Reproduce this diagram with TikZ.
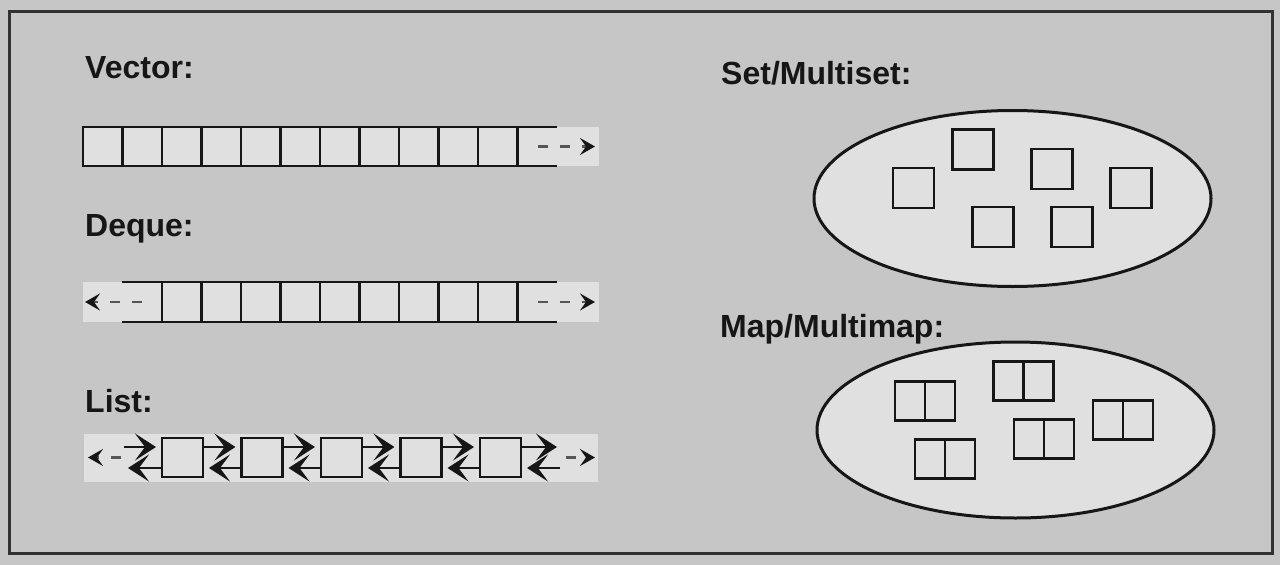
\documentclass[tikz,border=0pt]{standalone}
\usepackage{fontspec}
\setmainfont{Liberation Sans}
\usetikzlibrary{shapes.geometric,arrows.meta,calc}
\definecolor{bg}{RGB}{198,198,198}
\definecolor{lite}{RGB}{224,224,224}
\definecolor{ink}{RGB}{22,22,22}
\definecolor{frameink}{RGB}{50,50,50}
\definecolor{dashink}{RGB}{85,85,85}
\begin{document}
\begin{tikzpicture}[x=1pt,y=-1pt,
  title/.style={anchor=base west, inner sep=0, font=\fontsize{32}{38}\selectfont\bfseries, text=ink},
  cell/.style={draw=ink, line width=2.8pt, fill=lite, minimum width=39.5pt, minimum height=39pt, inner sep=0, outer sep=0, anchor=west},
  dcell/.style={cell, minimum height=40pt},
  edgeline/.style={draw=ink, line width=2.8pt},
  dasharrow/.style={draw=dashink, line width=2.4pt, dash pattern=on 10pt off 12pt, -{Stealth[length=15pt,width=17pt,inset=6pt,ink]}},
  lbox/.style={draw=ink, line width=2.6pt, fill=lite, minimum width=41pt, minimum height=39pt, inner sep=0, outer sep=0},
  lnk/.style={draw=ink, line width=2.6pt, -{Stealth[length=21pt,width=27pt,inset=10pt]}},
  blob/.style={ellipse, draw=ink, line width=3pt, fill=lite, inner sep=0, outer sep=0},
  sq/.style={draw=ink, line width=2.4pt, minimum width=41pt, minimum height=40pt, inner sep=0, outer sep=0},
  pair/.style={draw=ink, line width=2.4pt, minimum width=60pt, minimum height=39pt, inner sep=0, outer sep=0}
]
\fill[bg] (0,0) rectangle (1280,565);
\useasboundingbox (0,0) rectangle (1280,565);
\draw[frameink, line width=3pt] (9,11) rectangle (1272,553);

% ---------- Vector ----------
\node[title] (tvec) at (85,78) {Vector:};
\fill[lite] (83,127) rectangle (599,166);
\foreach \i in {1,...,11} \node[cell] (v\i) at ({83+(\i-1)*39.5},146.5) {};
\coordinate (vte) at (557,127);
\coordinate (vbe) at (557,166);
\draw[edgeline] (v11.north east) -- (vte);
\draw[edgeline] (v11.south east) -- (vbe);
\coordinate (va0) at (538,146.5);
\coordinate (va1) at (595,146.5);
\draw[dasharrow] (va0) -- (va1);

% ---------- Deque ----------
\node[title] (tdeq) at (85,236) {Deque:};
\fill[lite] (83,282) rectangle (599,322);
\foreach \i in {1,...,9} \node[dcell] (d\i) at ({162+(\i-1)*39.5},302) {};
\coordinate (dtl) at (122,282);
\coordinate (dbl) at (122,322);
\coordinate (dtr) at (557,282);
\coordinate (dbr) at (557,322);
\draw[edgeline] (dtl) -- (d1.north west);
\draw[edgeline] (dbl) -- (d1.south west);
\draw[edgeline] (d9.north east) -- (dtr);
\draw[edgeline] (d9.south east) -- (dbr);
\coordinate (dl0) at (142,302);
\coordinate (dl1) at (85,302);
\coordinate (dr0) at (538,302);
\coordinate (dr1) at (595,302);
\draw[dasharrow] (dl0) -- (dl1);
\draw[dasharrow] (dr0) -- (dr1);

% ---------- List ----------
\node[title] (tlist) at (85,412) {List:};
\fill[lite] (84,434) rectangle (598,482);
\foreach \i in {1,...,5} \node[lbox] (l\i) at ({182.5+(\i-1)*79.5},457.5) {};
\foreach \i/\j in {1/2,2/3,3/4,4/5} {
  \draw[lnk, shorten >=6pt] ([yshift=10.5pt]l\i.east) -- ([yshift=10.5pt]l\j.west);
  \draw[lnk, shorten >=6pt] ([yshift=-10.5pt]l\j.west) -- ([yshift=-10.5pt]l\i.east);
}
\coordinate (lu0) at (124,447);
\coordinate (ll0) at (128,468);
\coordinate (lu6) at (557,447);
\coordinate (ll6) at (560,468);
\draw[lnk, shorten >=6pt] (lu0) -- ([yshift=10.5pt]l1.west);
\draw[lnk] ([yshift=-10.5pt]l1.west) -- (ll0);
\draw[lnk] ([yshift=10.5pt]l5.east) -- (lu6);
\draw[lnk, shorten >=6pt] (ll6) -- ([yshift=-10.5pt]l5.east);
\coordinate (la0) at (121,457.5);
\coordinate (la1) at (88,457.5);
\coordinate (lb0) at (566,457.5);
\coordinate (lb1) at (595,457.5);
\draw[dasharrow] (la0) -- (la1);
\draw[dasharrow] (lb0) -- (lb1);

% ---------- Set/Multiset ----------
\node[title] (tset) at (721,84) {Set/Multiset:};
\node[blob, minimum width=397pt, minimum height=176pt] (setE) at (1012.5,198.5) {};
\node[sq] (s1) at (913.5,188) {};
\node[sq] (s2) at (973,149.5) {};
\node[sq] (s3) at (1052,169) {};
\node[sq] (s4) at (1131,188) {};
\node[sq] (s5) at (993,227) {};
\node[sq] (s6) at (1072,227) {};

% ---------- Map/Multimap ----------
\node[title] (tmap) at (720,337) {Map/Multimap:};
\node[blob, minimum width=397pt, minimum height=176pt] (mapE) at (1015.5,430) {};
\node[pair] (p1) at (925,401) {};
\node[pair] (p2) at (945,459) {};
\node[pair] (p3) at (1023.5,381) {};
\node[pair] (p4) at (1044,439) {};
\node[pair] (p5) at (1123,420) {};
\foreach \p in {p1,p2,p3,p4,p5} \draw[ink, line width=2.4pt] (\p.north) -- (\p.south);
\end{tikzpicture}
\end{document}
